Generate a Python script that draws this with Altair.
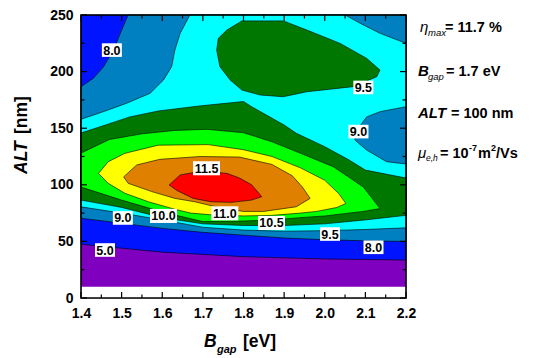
import altair as alt
import pandas as pd

# ---------------- axis ranges / ticks ----------------
x_min, x_max = 1.4, 2.2
y_min, y_max = 0, 250
data_y_min = 10

x_major = [1.4, 1.5, 1.6, 1.7, 1.8, 1.9, 2.0, 2.1, 2.2]
x_minor = [1.45, 1.55, 1.65, 1.75, 1.85, 1.95, 2.05, 2.15]
y_major = [0, 50, 100, 150, 200, 250]
y_minor = [25, 75, 125, 175, 225]

# band colours (efficiency levels)
col_below5 = "#7F00BF"
col_5_8 = "#0014FF"
col_8_9 = "#0080C0"
col_9_95 = "#00FFFF"
col_95_10 = "#007800"
col_10_105 = "#00FF00"
col_105_11 = "#FFFF00"
col_11_115 = "#E08000"
col_above115 = "#FF0000"

# ---------------- contour lines (B_gap [eV], ALT [nm]) ----------------
grid_x = [1.40, 1.50, 1.60, 1.70, 1.80, 1.90, 2.00, 2.10, 2.20]
c5_y = [47.5, 44, 40.5, 38.5, 36.5, 35.5, 34.5, 34, 33.5]
c8_low_y = [70.5, 66, 61.5, 58, 55.5, 53, 51.5, 50.5, 50]
c8_top_x = [1.516, 1.50, 1.48, 1.455, 1.43, 1.40]
c8_top_y = [250, 236.7, 219, 204, 194, 186.7]
c9_low_y = [80.5, 75, 69, 62.5, 60, 59, 59.5, 60.5, 62]
c9_right_x = [2.2, 2.152, 2.103, 2.074, 2.079, 2.103, 2.136, 2.2]
c9_right_y = [118.4, 120.4, 130.7, 139.6, 148.4, 160, 164.6, 169]
c9_corner_x = [2.2, 2.136, 2.087, 2.05]
c9_corner_y = [225, 233.8, 242.7, 250]
c9_top_x = [1.668, 1.644, 1.631, 1.623, 1.603, 1.570, 1.512, 1.455, 1.40]
c9_top_y = [250, 233.8, 219, 204.3, 192.6, 180.8, 172, 164.6, 157.9]
c95_low_y = [86.5, 80, 71, 65.5, 64, 64, 65.5, 69, 73]
c95_top_x = [2.20, 2.10, 2.06, 2.00, 1.93, 1.90, 1.82, 1.80, 1.69, 1.59, 1.52, 1.46, 1.40]
c95_top_y = [106, 113, 121.9, 133.7, 145.5, 152.8, 169, 173.6, 169.6, 165.2, 160, 152.8, 145.8]
c95_blob_x = [1.796, 1.898, 1.956, 2.038, 2.103, 2.136, 2.128, 2.07, 1.956, 1.898,
              1.841, 1.796, 1.767, 1.742, 1.734, 1.738, 1.759]
c95_blob_y = [244.8, 244.8, 236.7, 224.9, 211.7, 201.4, 195.5, 186.7, 182.2, 177.8,
              179.3, 183.7, 192.6, 204.3, 219, 229.4, 236.7]
c10_x = [1.40, 1.50, 1.60, 1.70, 1.80, 1.87, 1.94, 2.00, 2.095, 2.136,
         2.095, 2.021, 1.939, 1.87, 1.80, 1.71, 1.63, 1.55, 1.47, 1.40]
c10_y = [98, 86.5, 76, 67.5, 68, 69, 71, 72.5, 76.5, 79,
         98, 116, 128, 138, 146, 149, 148, 145, 140, 128]
c105_x = [1.443, 1.467, 1.508, 1.59, 1.713, 1.80, 1.87, 1.94, 2.00, 2.035, 2.052,
          2.03, 1.98, 1.94, 1.87, 1.80, 1.72, 1.67, 1.63, 1.566, 1.508, 1.467]
c105_y = [110, 120.4, 127.8, 135, 135.5, 131, 125, 115, 104, 92, 83.5,
          80, 76.5, 75, 73, 72.5, 73.5, 75, 78.5, 85, 92.5, 101.3]
c11_x = [1.505, 1.537, 1.594, 1.693, 1.79, 1.87, 1.92, 1.945, 1.964,
         1.93, 1.85, 1.80, 1.75, 1.68, 1.631, 1.574, 1.516]
c11_y = [107, 117.5, 122.5, 125, 124.5, 118, 108, 98, 88,
         80.6, 76.5, 76.5, 79, 85, 88, 94, 101.3]
c115_x = [1.617, 1.644, 1.68, 1.72, 1.76, 1.79, 1.82, 1.845, 1.82, 1.77, 1.72, 1.676, 1.636]
c115_y = [99.8, 108.7, 111, 111.5, 110, 106, 100, 89.5, 86.5, 84.5, 85, 88, 95]

# contour labels
label_text = ["8.0", "9.5", "9.0", "9.0", "9.5", "8.0", "5.0", "11.5", "10.0", "11.0", "10.5"]
label_x = [1.476, 2.095, 2.083, 1.503, 2.013, 2.12, 1.459, 1.709, 1.603, 1.754, 1.869]
label_y = [219, 186, 147, 70.7, 56.5, 44.8, 42.4, 114.6, 72.5, 74.8, 66.3]

# ---------------- chart ----------------
W, H = 325, 283
OX, OY = 81, 15  # plot origin on page (for annotations)
FONT = "Liberation Sans"

XS = alt.Scale(domain=[x_min, x_max], nice=False, zero=False)
YS = alt.Scale(domain=[y_min, y_max], nice=False, zero=False)
XA = alt.Axis(values=x_major, format=".1f", ticks=False, domain=False, grid=False,
              labelFont=FONT, labelFontSize=14, labelFontWeight="bold", labelColor="black",
              labelPadding=8, title=None, labelFlush=False)
YA = alt.Axis(values=y_major, format="d", ticks=False, domain=False, grid=False,
              labelFont=FONT, labelFontSize=14, labelFontWeight="bold", labelColor="black",
              labelPadding=8, title=None, labelFlush=False)


def X(f):
    return alt.X(f, type="quantitative", scale=XS, axis=XA)


def Y(f):
    return alt.Y(f, type="quantitative", scale=YS, axis=YA)


def poly(xs, ys, color):
    df = pd.DataFrame({"x": xs, "y": ys, "i": list(range(len(xs)))})
    return alt.Chart(df).mark_line(
        fill=color, stroke="black", strokeWidth=0.6, interpolate="linear-closed",
        strokeJoin="round"
    ).encode(x=X("x"), y=Y("y"), order=alt.Order("i:Q"))


layers = []
base_df = pd.DataFrame({"x": [x_min], "x2": [x_max], "y": [data_y_min], "y2": [y_max]})
layers.append(alt.Chart(base_df).mark_rect(color=col_below5).encode(
    x=X("x"), x2="x2", y=Y("y"), y2="y2"))

layers.append(poly(grid_x + [x_max, x_min], c5_y + [y_max, y_max], col_5_8))
layers.append(poly(grid_x + [x_max] + c8_top_x, c8_low_y + [y_max] + c8_top_y, col_8_9))
layers.append(poly(grid_x + c9_right_x + c9_corner_x + c9_top_x,
                   c9_low_y + c9_right_y + c9_corner_y + c9_top_y, col_9_95))
layers.append(poly(grid_x + c95_top_x, c95_low_y + c95_top_y, col_95_10))
layers.append(poly(c95_blob_x, c95_blob_y, col_95_10))
layers.append(poly(c10_x, c10_y, col_10_105))
layers.append(poly(c105_x, c105_y, col_105_11))
layers.append(poly(c11_x, c11_y, col_11_115))
layers.append(poly(c115_x, c115_y, col_above115))

# contour labels with white boxes
lab_df = pd.DataFrame({"x": label_x, "y": label_y, "t": label_text})
lab_df["wide"] = lab_df["t"].str.len() > 3
box3 = alt.Chart(lab_df[~lab_df["wide"]]).mark_point(
    shape="M-1,-0.68L1,-0.68L1,0.68L-1,0.68Z", size=400, filled=True, fill="white",
    opacity=1, strokeWidth=0).encode(x=X("x"), y=Y("y"))
box4 = alt.Chart(lab_df[lab_df["wide"]]).mark_point(
    shape="M-1,-0.52L1,-0.52L1,0.52L-1,0.52Z", size=729, filled=True, fill="white",
    opacity=1, strokeWidth=0).encode(x=X("x"), y=Y("y"))
labt = alt.Chart(lab_df).mark_text(font=FONT, fontSize=12.5, fontWeight="bold", color="black",
                                   baseline="middle", dy=0.5).encode(
    x=X("x"), y=Y("y"), text="t:N")
layers += [box3, box4, labt]


# inward ticks on all four sides
def tick_df(v):
    return pd.DataFrame({"v": v})


for vals, L in [(x_major, 6), (x_minor, 3.5)]:
    layers.append(alt.Chart(tick_df(vals)).mark_rule(color="black", strokeWidth=1.2).encode(
        x=X("v"), y=alt.value(H), y2=alt.value(H - L)))
    layers.append(alt.Chart(tick_df(vals)).mark_rule(color="black", strokeWidth=1.2).encode(
        x=X("v"), y=alt.value(0), y2=alt.value(L)))
for vals, L in [(y_major, 6), (y_minor, 3.5)]:
    layers.append(alt.Chart(tick_df(vals)).mark_rule(color="black", strokeWidth=1.2).encode(
        y=Y("v"), x=alt.value(0), x2=alt.value(L)))
    layers.append(alt.Chart(tick_df(vals)).mark_rule(color="black", strokeWidth=1.2).encode(
        y=Y("v"), x=alt.value(W), x2=alt.value(W - L)))

# frame
one = pd.DataFrame({"k": [0]})
layers.append(alt.Chart(one).mark_rect(fillOpacity=0, stroke="black", strokeWidth=1.6).encode(
    x=alt.value(0), x2=alt.value(W), y=alt.value(0), y2=alt.value(H)))


def txt(text, px, py, size, weight="bold", style="normal", angle=0):
    return alt.Chart(one).mark_text(
        text=text, font=FONT, fontSize=size, fontWeight=weight, fontStyle=style,
        color="black", align="left", baseline="alphabetic", angle=angle
    ).encode(x=alt.value(px - OX), y=alt.value(py - OY))


# axis titles
layers += [
    txt("B", 204, 347, 17.5, "bold", "italic"),
    txt("gap", 217, 353, 11, "bold", "italic"),
    txt("[eV]", 243, 347, 17.5, "bold"),
    txt("ALT", 27, 174, 17.5, "bold", "italic", 270),
    txt("[nm]", 27, 134, 17.5, "bold", "normal", 270),
]

# right-hand annotations
layers += [
    txt("\u03b7", 420, 32, 15, "normal", "italic"),
    txt("max", 428, 36, 9.5, "normal", "italic"),
    txt("= 11.7 %", 445, 32, 14.5, "bold"),
    txt("B", 418, 76, 15, "bold", "italic"),
    txt("gap", 428, 80, 9.5, "normal", "italic"),
    txt("= 1.7 eV", 446, 76, 14.5, "bold"),
    txt("ALT", 418, 118, 15, "bold", "italic"),
    txt("= 100 nm", 451, 118, 14.5, "bold"),
    txt("\u03bc", 418, 158, 15, "normal", "italic"),
    txt("e,h", 426, 161, 8.5, "normal", "italic"),
    txt("= 10", 440, 158, 14.5, "bold"),
    txt("-7", 469, 151, 9, "bold"),
    txt("m", 478, 158, 14.5, "bold"),
    txt("2", 491, 151, 9, "bold"),
    txt("/Vs", 496, 158, 14.5, "bold"),
]

chart = alt.layer(*layers).properties(
    width=W, height=H,
    autosize=alt.AutoSizeParams(type="none"),
    padding={"left": 73, "top": 7, "right": 115, "bottom": 58},
).configure_view(strokeWidth=0).configure(background="white")

chart.save("out.html", embed_options={"renderer": "svg", "actions": False})
